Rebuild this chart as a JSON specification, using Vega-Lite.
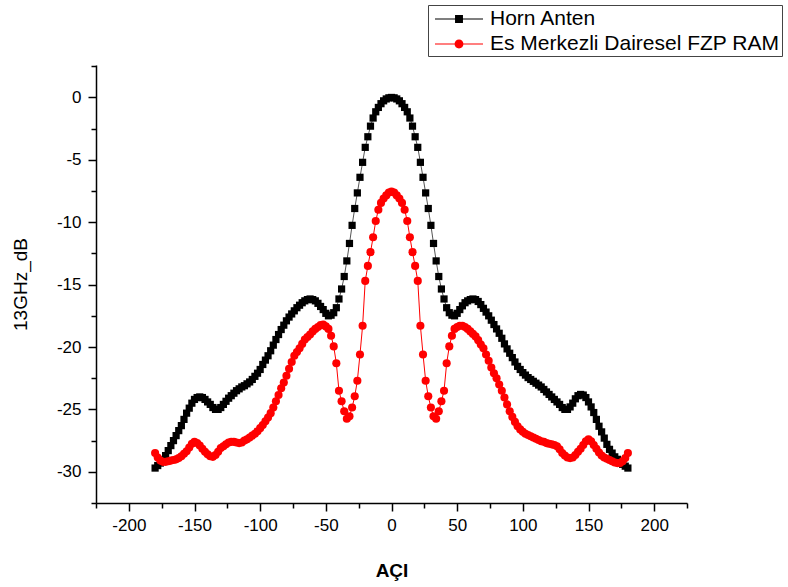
{
  "$schema": "https://vega.github.io/schema/vega-lite/v6.json",
  "autosize": "none",
  "width": 591,
  "height": 438,
  "padding": {"left": 96, "top": 65, "right": 101, "bottom": 84},
  "background": "white",
  "config": {
    "view": {"stroke": null},
    "font": "Liberation Sans",
    "axis": {"grid": false, "domainColor": "black", "domainWidth": 1.5, "tickColor": "black", "tickWidth": 1.5, "labelFont": "Liberation Sans", "labelFontSize": 17, "labelColor": "black", "titleFont": "Liberation Sans", "titleColor": "black", "titleFontSize": 19}
  },
  "data": {"values": [
    {"a":-180,"H":-29.7,"R":-28.5},{"a":-178,"H":-29.5,"R":-28.85},{"a":-176,"H":-29.3,"R":-29.1},{"a":-174,"H":-29.05,"R":-29.2},{"a":-172,"H":-28.7,"R":-29.2},
    {"a":-170,"H":-28.3,"R":-29.15},{"a":-168,"H":-27.9,"R":-29.1},{"a":-166,"H":-27.5,"R":-29.05},{"a":-164,"H":-27.1,"R":-29.0},{"a":-162,"H":-26.7,"R":-28.9},
    {"a":-160,"H":-26.3,"R":-28.75},{"a":-158,"H":-25.8,"R":-28.55},{"a":-156,"H":-25.3,"R":-28.35},{"a":-154,"H":-24.9,"R":-28.05},{"a":-152,"H":-24.5,"R":-27.75},
    {"a":-150,"H":-24.2,"R":-27.6},{"a":-148,"H":-24.05,"R":-27.7},{"a":-146,"H":-24.0,"R":-27.9},{"a":-144,"H":-24.05,"R":-28.15},{"a":-142,"H":-24.2,"R":-28.4},
    {"a":-140,"H":-24.4,"R":-28.6},{"a":-138,"H":-24.6,"R":-28.75},{"a":-136,"H":-24.85,"R":-28.8},{"a":-134,"H":-25.0,"R":-28.65},{"a":-132,"H":-25.0,"R":-28.4},
    {"a":-130,"H":-24.85,"R":-28.1},{"a":-128,"H":-24.6,"R":-27.95},{"a":-126,"H":-24.35,"R":-27.8},{"a":-124,"H":-24.1,"R":-27.65},{"a":-122,"H":-23.9,"R":-27.6},
    {"a":-120,"H":-23.7,"R":-27.6},{"a":-118,"H":-23.5,"R":-27.65},{"a":-116,"H":-23.35,"R":-27.7},{"a":-114,"H":-23.2,"R":-27.65},{"a":-112,"H":-23.1,"R":-27.5},
    {"a":-110,"H":-22.95,"R":-27.4},{"a":-108,"H":-22.8,"R":-27.25},{"a":-106,"H":-22.6,"R":-27.1},{"a":-104,"H":-22.35,"R":-26.95},{"a":-102,"H":-22.1,"R":-26.75},
    {"a":-100,"H":-21.8,"R":-26.5},{"a":-98,"H":-21.4,"R":-26.25},{"a":-96,"H":-21.05,"R":-25.95},{"a":-94,"H":-20.7,"R":-25.65},{"a":-92,"H":-20.3,"R":-25.3},
    {"a":-90,"H":-19.85,"R":-24.85},{"a":-88,"H":-19.4,"R":-24.35},{"a":-86,"H":-19.0,"R":-23.85},{"a":-84,"H":-18.6,"R":-23.3},{"a":-82,"H":-18.25,"R":-22.85},
    {"a":-80,"H":-17.9,"R":-22.3},{"a":-78,"H":-17.6,"R":-21.75},{"a":-76,"H":-17.35,"R":-21.2},{"a":-74,"H":-17.1,"R":-20.7},{"a":-72,"H":-16.85,"R":-20.4},
    {"a":-70,"H":-16.65,"R":-20.1},{"a":-68,"H":-16.45,"R":-19.75},{"a":-66,"H":-16.3,"R":-19.4},{"a":-64,"H":-16.2,"R":-19.2},{"a":-62,"H":-16.15,"R":-19.0},
    {"a":-60,"H":-16.2,"R":-18.75},{"a":-58,"H":-16.3,"R":-18.55},{"a":-56,"H":-16.5,"R":-18.4},{"a":-54,"H":-16.75,"R":-18.25},{"a":-52,"H":-17.0,"R":-18.2},
    {"a":-50,"H":-17.3,"R":-18.35},{"a":-48,"H":-17.5,"R":-18.55},{"a":-46,"H":-17.45,"R":-19.1},{"a":-44,"H":-17.25,"R":-19.95},{"a":-42,"H":-16.85,"R":-21.3},
    {"a":-40,"H":-16.15,"R":-23.5},{"a":-38,"H":-15.35,"R":-24.35},{"a":-36,"H":-14.35,"R":-25.15},{"a":-34,"H":-13.1,"R":-25.75},{"a":-32,"H":-11.7,"R":-25.55},
    {"a":-30,"H":-10.25,"R":-24.85},{"a":-28,"H":-8.9,"R":-23.95},{"a":-26,"H":-7.65,"R":-22.7},{"a":-24,"H":-6.4,"R":-20.6},{"a":-22,"H":-5.2,"R":-18.3},
    {"a":-20,"H":-4.0,"R":-14.7},{"a":-18,"H":-3.15,"R":-13.5},{"a":-16,"H":-2.3,"R":-12.4},{"a":-14,"H":-1.65,"R":-11.2},{"a":-12,"H":-1.15,"R":-9.9},
    {"a":-10,"H":-0.8,"R":-9.0},{"a":-8,"H":-0.5,"R":-8.45},{"a":-6,"H":-0.27,"R":-8.1},{"a":-4,"H":-0.12,"R":-7.85},{"a":-2,"H":-0.03,"R":-7.62},
    {"a":0,"H":0.0,"R":-7.55},
    {"a":2,"H":-0.03,"R":-7.62},{"a":4,"H":-0.12,"R":-7.85},{"a":6,"H":-0.27,"R":-8.1},{"a":8,"H":-0.5,"R":-8.45},{"a":10,"H":-0.8,"R":-9.0},
    {"a":12,"H":-1.15,"R":-9.9},{"a":14,"H":-1.65,"R":-11.2},{"a":16,"H":-2.3,"R":-12.4},{"a":18,"H":-3.15,"R":-13.5},{"a":20,"H":-4.0,"R":-14.7},
    {"a":22,"H":-5.2,"R":-18.3},{"a":24,"H":-6.4,"R":-20.6},{"a":26,"H":-7.65,"R":-22.7},{"a":28,"H":-8.9,"R":-23.95},{"a":30,"H":-10.25,"R":-24.85},
    {"a":32,"H":-11.7,"R":-25.55},{"a":34,"H":-13.1,"R":-25.75},{"a":36,"H":-14.35,"R":-25.15},{"a":38,"H":-15.35,"R":-24.35},{"a":40,"H":-16.15,"R":-23.5},
    {"a":42,"H":-16.85,"R":-21.3},{"a":44,"H":-17.25,"R":-19.95},{"a":46,"H":-17.45,"R":-19.1},{"a":48,"H":-17.5,"R":-18.55},{"a":50,"H":-17.3,"R":-18.4},
    {"a":52,"H":-17.0,"R":-18.3},{"a":54,"H":-16.7,"R":-18.3},{"a":56,"H":-16.45,"R":-18.4},{"a":58,"H":-16.3,"R":-18.55},{"a":60,"H":-16.2,"R":-18.75},
    {"a":62,"H":-16.15,"R":-18.95},{"a":64,"H":-16.2,"R":-19.15},{"a":66,"H":-16.35,"R":-19.45},{"a":68,"H":-16.6,"R":-19.8},{"a":70,"H":-16.9,"R":-20.1},
    {"a":72,"H":-17.2,"R":-20.6},{"a":74,"H":-17.5,"R":-21.1},{"a":76,"H":-17.85,"R":-21.65},{"a":78,"H":-18.2,"R":-22.1},{"a":80,"H":-18.55,"R":-22.5},
    {"a":82,"H":-18.9,"R":-23.0},{"a":84,"H":-19.3,"R":-23.5},{"a":86,"H":-19.75,"R":-24.05},{"a":88,"H":-20.15,"R":-24.6},{"a":90,"H":-20.5,"R":-25.15},
    {"a":92,"H":-20.85,"R":-25.6},{"a":94,"H":-21.2,"R":-26.0},{"a":96,"H":-21.55,"R":-26.35},{"a":98,"H":-21.8,"R":-26.6},{"a":100,"H":-22.05,"R":-26.8},
    {"a":102,"H":-22.25,"R":-26.95},{"a":104,"H":-22.45,"R":-27.05},{"a":106,"H":-22.6,"R":-27.15},{"a":108,"H":-22.75,"R":-27.25},{"a":110,"H":-22.9,"R":-27.35},
    {"a":112,"H":-23.05,"R":-27.45},{"a":114,"H":-23.2,"R":-27.55},{"a":116,"H":-23.4,"R":-27.6},{"a":118,"H":-23.6,"R":-27.7},{"a":120,"H":-23.8,"R":-27.75},
    {"a":122,"H":-24.0,"R":-27.8},{"a":124,"H":-24.2,"R":-27.85},{"a":126,"H":-24.4,"R":-27.95},{"a":128,"H":-24.6,"R":-28.2},{"a":130,"H":-24.85,"R":-28.5},
    {"a":132,"H":-25.0,"R":-28.7},{"a":134,"H":-25.0,"R":-28.85},{"a":136,"H":-24.8,"R":-28.9},{"a":138,"H":-24.5,"R":-28.85},{"a":140,"H":-24.15,"R":-28.65},
    {"a":142,"H":-23.9,"R":-28.4},{"a":144,"H":-23.8,"R":-28.15},{"a":146,"H":-23.85,"R":-27.85},{"a":148,"H":-24.05,"R":-27.55},{"a":150,"H":-24.4,"R":-27.4},
    {"a":152,"H":-24.8,"R":-27.55},{"a":154,"H":-25.25,"R":-27.85},{"a":156,"H":-25.8,"R":-28.15},{"a":158,"H":-26.35,"R":-28.45},{"a":160,"H":-26.8,"R":-28.7},
    {"a":162,"H":-27.3,"R":-28.85},{"a":164,"H":-27.8,"R":-28.95},{"a":166,"H":-28.2,"R":-29.05},{"a":168,"H":-28.5,"R":-29.15},{"a":170,"H":-28.8,"R":-29.25},
    {"a":172,"H":-29.0,"R":-29.3},{"a":174,"H":-29.2,"R":-29.3},{"a":176,"H":-29.4,"R":-29.15},{"a":178,"H":-29.55,"R":-28.9},{"a":180,"H":-29.7,"R":-28.5}
  ]},
  "transform": [{"fold": ["H", "R"], "as": ["s", "v"]}],
  "encoding": {
    "x": {"field": "a", "type": "quantitative", "scale": {"domain": [-225, 225], "nice": false, "zero": false},
      "axis": {"title": "AÇI", "titleFontWeight": "bold", "titlePadding": 28,
        "values": [-225,-200,-175,-150,-125,-100,-75,-50,-25,0,25,50,75,100,125,150,175,200,225],
        "labelExpr": "datum.value % 50 == 0 && abs(datum.value) <= 200 ? '' + datum.value : ''",
        "tickSize": {"condition": {"test": "datum.value % 50 == 0", "value": 8}, "value": 5},
        "labelPadding": 6, "labelFlush": false, "labelOverlap": false}},
    "y": {"field": "v", "type": "quantitative", "scale": {"domain": [-32.5, 2.6], "nice": false, "zero": false},
      "axis": {"title": "13GHz_dB", "titleFontWeight": "normal", "titlePadding": 26,
        "values": [-32.5,-30,-27.5,-25,-22.5,-20,-17.5,-15,-12.5,-10,-7.5,-5,-2.5,0,2.5],
        "labelExpr": "datum.value % 5 == 0 && datum.value >= -30 && datum.value <= 0 ? '' + datum.value : ''",
        "tickSize": {"condition": {"test": "datum.value % 5 == 0", "value": 8}, "value": 5},
        "labelPadding": 7, "labelFlush": false, "labelOverlap": false}}
  },
  "layer": [
    {
      "transform": [{"filter": "datum.a > 1000"}],
      "mark": {"type": "point", "filled": true, "opacity": 1},
      "encoding": {
        "color": {"field": "s", "type": "nominal", "scale": {"domain": ["H", "R"], "range": ["#000000", "#ff0000"]},
          "legend": {
            "title": null, "orient": "none", "legendX": 332, "legendY": -60,
            "direction": "vertical", "fillColor": "white",
            "strokeColor": "#444444", "padding": 2,
            "labelFont": "Liberation Sans", "labelFontSize": 21, "labelColor": "black", "labelLimit": 500,
            "labelExpr": "datum.value == 'H' ? 'Horn Anten' : 'Es Merkezli Dairesel FZP RAM'",
            "symbolSize": 576, "symbolOffset": 17, "labelOffset": 19, "rowPadding": 3,
            "symbolStrokeWidth": 0, "symbolOpacity": 1
          }},
        "shape": {"field": "s", "type": "nominal", "scale": {"domain": ["H", "R"], "range": ["M-2,-0.042H2V0.042H-2Z M-0.33,-0.33H0.33V0.33H-0.33Z", "M-2,-0.042H2V0.042H-2Z M0.37,0A0.37,0.37,0,1,1,-0.37,0A0.37,0.37,0,1,1,0.37,0Z"]}}
      }
    },
    {
      "transform": [{"filter": "datum.s == 'H'"}],
      "mark": {"type": "line", "strokeWidth": 1, "color": "#555555"},
      "encoding": {}
    },
    {
      "transform": [{"filter": "datum.s == 'H'"}],
      "mark": {"type": "point", "filled": true, "opacity": 1, "shape": "square", "size": 52, "color": "#000000"},
      "encoding": {}
    },
    {
      "transform": [{"filter": "datum.s == 'R'"}],
      "mark": {"type": "line", "strokeWidth": 1, "color": "#ff0000"},
      "encoding": {}
    },
    {
      "transform": [{"filter": "datum.s == 'R'"}],
      "mark": {"type": "point", "filled": true, "opacity": 1, "shape": "circle", "size": 66, "color": "#ff0000"},
      "encoding": {}
    }
  ]
}
